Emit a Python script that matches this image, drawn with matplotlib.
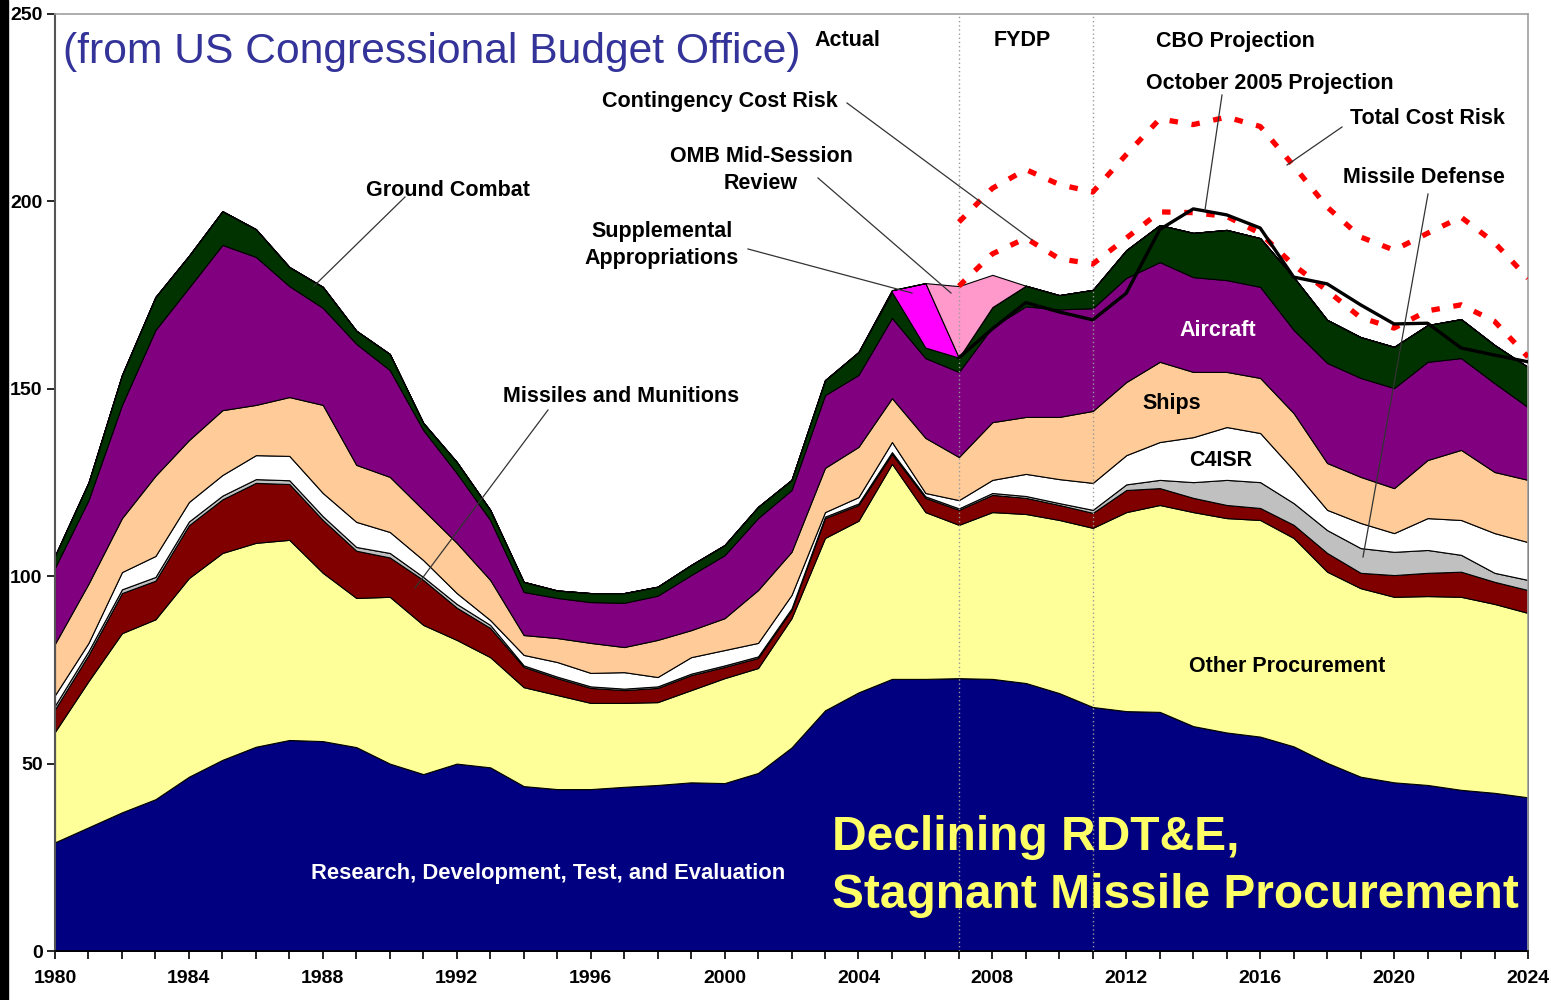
import numpy as np
import matplotlib
matplotlib.use("Agg")
import matplotlib.pyplot as plt
from matplotlib.lines import Line2D
from matplotlib.patches import Rectangle

plt.rcParams['font.family'] = ['Liberation Sans', 'DejaVu Sans']

# procurement + RDT&E by category, billions
years = list(range(1980, 2025))
rdte = [29, 33, 37, 40.5, 46.5, 51, 54.5, 56.3, 56, 54.4,
        50, 47.2, 50, 49, 44, 43.2, 43.2, 43.8, 44.3, 45,
        44.8, 47.5, 54.3, 64.2, 69, 72.6, 72.6, 72.8, 72.6, 71.5,
        68.8, 65.1, 64, 63.8, 60, 58.3, 57.2, 54.6, 50.2, 46.5,
        45, 44.3, 43, 42.2, 41]
other_proc = [29.5, 39, 47.8, 48, 53, 55.2, 54.4, 53.4, 44.9, 39.8,
              44.5, 39.8, 33, 29.4, 26.4, 25.1, 23, 22.4, 22.1, 24.6,
              28, 28, 34.5, 46, 45.8, 57.4, 44.5, 40.9, 44.5, 45.1,
              46.2, 47.8, 53.1, 55.2, 57.1, 57.2, 57.8, 55.6, 51, 50.3,
              49.5, 50.4, 51.5, 50.4, 49.2]
missiles = [6, 7, 10.7, 10.3, 14.1, 14.3, 16, 14.9, 14.1, 12.6,
            10.5, 12, 8.6, 7.8, 5.4, 4.5, 4, 3.4, 3.8, 4,
            3, 2.7, 2.2, 5.3, 4.2, 2.6, 3.8, 4, 4.6, 4.3,
            4, 4, 5.9, 4.5, 3.8, 3.5, 3.2, 3.5, 5, 4.1,
            5.8, 6.2, 6.7, 5.9, 6.1]
missile_def = [1, 1, 1, 1, 1, 1, 1, 1, 1, 1,
               1.2, 0.8, 1, 0.8, 0.4, 0.4, 0.4, 0.4, 0.4, 0.4,
               0.4, 0.4, 0.4, 0.4, 0.4, 0.5, 0.4, 0.4, 0.5, 0.5,
               0.5, 0.8, 1.5, 2.2, 4.2, 6.7, 6.9, 5.8, 6.1, 6.6,
               6.2, 6.1, 4.5, 2.4, 2.7]
c4isr = [2.8, 2.2, 4.6, 5.6, 5.2, 5.5, 6.4, 6.5, 6.2, 6.7,
         5.6, 4.5, 2.9, 1.3, 2.8, 3.9, 3.6, 4.4, 2.5, 4.4,
         4.1, 3.6, 3.6, 1.2, 1.7, 2.7, 0.9, 2.2, 3.5, 5.9,
         6.4, 7.2, 7.8, 10.1, 12, 14.1, 13.1, 8.8, 5.4, 6.7,
         5, 8.5, 9.3, 10.6, 10.1]
ships = [13.7, 15.8, 14.4, 21.4, 16.5, 17.3, 13.4, 15.7, 23.5, 15.2,
         14.7, 13.4, 13.4, 10.7, 5.3, 6.4, 8, 6.7, 9.9, 7.2,
         8.5, 14.1, 11.5, 11.8, 13.4, 11.7, 14.7, 11.5, 15.4, 15.2,
         16.6, 19.2, 19.5, 21.4, 17.4, 14.7, 14.7, 15.2, 12.5, 12.3,
         12, 15.5, 18.7, 16.3, 16.6]
aircraft = [20.3, 22.3, 30.2, 38.9, 40.7, 44.1, 39.5, 29.6, 25.9, 32.3,
            28.5, 21.3, 18.6, 16, 11.5, 10.7, 10.9, 11.8, 11.8, 14.7,
            16.8, 19.2, 16.5, 19.4, 19.2, 21.4, 21.3, 22.7, 25.4, 29.5,
            28.7, 27.4, 27.8, 26.6, 25.3, 24.5, 24.3, 22.2, 26.7, 26.4,
            26.7, 26.2, 24.5, 23.7, 19.4]
ground = [3.2, 4.7, 8, 8.8, 8.5, 9, 7.4, 5.1, 5.6, 3.5,
          4.3, 1.9, 3, 2.7, 2.7, 2, 2.4, 2.6, 2.4, 2.7,
          2.7, 3, 2.7, 4, 6.1, 6.9, 2.8, 3.8, 5.3, 5.5,
          3.8, 4.9, 7.4, 9.9, 11.8, 13.4, 13, 14.1, 11.5, 10.9,
          11, 9.8, 10.4, 10.2, 10.7]
supplemental = {2005: 0.5, 2006: 17.2}
omb_review = {2007: 19.1, 2008: 8.6}

proj_years = list(range(2007, 2025))
oct2005 = [158.3, 166, 173, 170.5, 168.4, 175.5, 192.5, 198, 196.4,
           192.9, 179.8, 178, 172.4, 167.3, 167.5, 160.9, 159, 157.2]
total_risk = [194.5, 203.5, 208.5, 204.5, 202.5, 212.5, 222, 220.5, 222.5,
              220, 209.5, 198.5, 190.5, 187, 191.5, 195.8, 189, 179.5]
contingency = [177.4, 186, 190.2, 184.7, 183.3, 190.2, 197.2, 197, 196,
               191.5, 183, 176.2, 169, 166.2, 170.8, 172.4, 168, 158.5]

supp = [supplemental.get(y, 0) for y in years]
omb = [omb_review.get(y, 0) for y in years]

colors = ['#000080', '#FFFF99', '#800000', '#C0C0C0', '#FFFFFF',
          '#FFCC99', '#800080', '#003300', '#FF00FF', '#FF99CC']

W, H = 1551, 1000
fig = plt.figure(figsize=(W / 100, H / 100), dpi=100)
ax = fig.add_axes([55 / W, 1 - 951 / H, (1528 - 55) / W, (951 - 14) / H])

ax.stackplot(years, rdte, other_proc, missiles, missile_def, c4isr, ships,
             aircraft, ground, supp, omb, colors=colors,
             edgecolor='black', linewidth=0.8, zorder=2)

for yr in (2007, 2011):
    ax.axvline(yr, color='#999999', lw=1, ls=(0, (1, 2)), zorder=3)

ax.plot(proj_years, total_risk, color='#FF0000', lw=3.8, ls=(0, (1.6, 2.6)), zorder=4)
ax.plot(proj_years, contingency, color='#FF0000', lw=3.8, ls=(0, (1.6, 2.6)), zorder=4)
ax.plot(proj_years, oct2005, color='black', lw=2.4, zorder=5)

ax.set_xlim(1980, 2024)
ax.set_ylim(0, 250)
ax.set_yticks(range(0, 251, 50))
ax.set_xticks(range(1980, 2025, 4))
ax.set_xticks(years, minor=True)
ax.tick_params(axis='both', which='both', direction='out', length=6,
               width=1.2, color='black', labelsize=14)
ax.tick_params(axis='x', which='major', pad=8)
ax.tick_params(axis='y', which='major', pad=3)
for lab in ax.get_xticklabels() + ax.get_yticklabels():
    lab.set_fontweight('bold')
ax.spines['left'].set_color('#555555')
ax.spines['left'].set_linewidth(1.5)
ax.spines['bottom'].set_color('black')
ax.spines['bottom'].set_linewidth(1.2)
for s in ('top', 'right'):
    ax.spines[s].set_color('#A0A0A0')
    ax.spines[s].set_linewidth(1.2)

# black strip on the left edge of the slide
fig.patches.append(Rectangle((0, 0), 8 / W, 1, transform=fig.transFigure,
                             color='black', zorder=10))


def ftext(px, py, s, **kw):
    kw.setdefault('fontsize', 15.5)
    kw.setdefault('fontweight', 'bold')
    kw.setdefault('ha', 'center')
    kw.setdefault('va', 'center')
    fig.text(px / W, 1 - py / H, s, zorder=20, **kw)


def leader(x1, y1, x2, y2):
    fig.add_artist(Line2D([x1 / W, x2 / W], [1 - y1 / H, 1 - y2 / H],
                          color='#333333', lw=0.9, zorder=15))


ftext(63, 52, '(from US Congressional Budget Office)', fontsize=30.7,
      fontweight='normal', color='#333399', ha='left')
ftext(847, 41, 'Actual')
ftext(1022, 41, 'FYDP')
ftext(1235, 41, 'CBO Projection')
ftext(1270, 84, 'October 2005 Projection')
ftext(1427, 118, 'Total Cost Risk')
ftext(1424, 178, 'Missile Defense')
ftext(720, 101, 'Contingency Cost Risk')
ftext(761, 170, 'OMB Mid-Session\nReview', linespacing=1.35)
ftext(662, 245, 'Supplemental\nAppropriations', linespacing=1.35)
ftext(448, 190, 'Ground Combat')
ftext(621, 396, 'Missiles and Munitions')
ftext(1218, 330, 'Aircraft', color='white')
ftext(1172, 404, 'Ships')
ftext(1221, 460, 'C4ISR')
ftext(1287, 667, 'Other Procurement')
ftext(548, 873, 'Research, Development, Test, and Evaluation', color='white',
      fontsize=15.8)
ftext(832, 838, 'Declining RDT&E,', fontsize=34.5, color='#FFFF66', ha='left')
ftext(832, 896, 'Stagnant Missile Procurement', fontsize=34.5,
      color='#FFFF66', ha='left')

leader(405, 197, 314, 286)
leader(548, 410, 415, 588)
leader(847, 103, 1032, 240)
leader(818, 178, 951, 293)
leader(748, 249, 912, 293)
leader(1222, 95, 1205, 210)
leader(1342, 127, 1287, 165)
leader(1428, 194, 1363, 557)

fig.savefig('out.png', dpi=100)
